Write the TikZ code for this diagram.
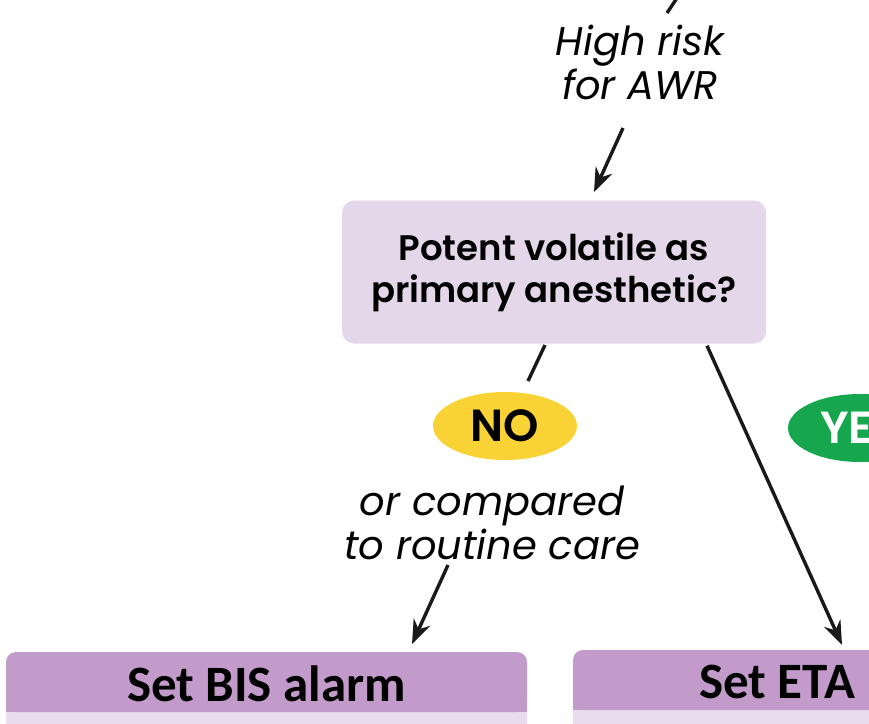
\documentclass[tikz,border=0pt]{standalone}
\usepackage{fontspec}
\setmainfont{Poppins}[BoldFont={Poppins SemiBold}]
\newfontfamily\hdrfont{Carlito}
\usetikzlibrary{arrows.meta,shapes.geometric}
\definecolor{qfill}{HTML}{E4D7EA}
\definecolor{nofill}{HTML}{F9D235}
\definecolor{yesfill}{HTML}{16A64E}
\definecolor{hdrfill}{HTML}{C29BCB}
\definecolor{bandfill}{HTML}{E9DCEF}
\tikzset{
  conn/.style={line width=3.4pt, draw=black!90},
  arr/.style={conn, -{Stealth[length=24pt,width=18pt,inset=8pt]}},
  qbox/.style={fill=qfill, rounded corners=12pt, inner sep=0pt, align=center,
     font=\fontsize{35.5}{42}\selectfont\bfseries},
  pill/.style={ellipse, inner sep=0pt, minimum width=144pt, minimum height=68pt,
     font=\fontsize{45}{45}\selectfont\bfseries},
  lab/.style={align=center, inner sep=0pt, font=\fontsize{40}{44}\selectfont\itshape},
  hdr/.style={inner sep=0pt, font=\hdrfont\fontsize{51}{51}\selectfont\bfseries}
}
\begin{document}
\begin{tikzpicture}[x=1pt,y=-1pt]
\useasboundingbox (0,0) rectangle (869,723);
\clip (0,0) rectangle (869,723);
% top label
\node[lab] (hr) at (640,62) {High risk\\for AWR};
\coordinate (t0) at (677,-2);
\coordinate (t1) at (667,13);
\coordinate (t2) at (623,128);
\coordinate (t3) at (594,192);
\draw[conn] (t0) -- (t1);
% question box
\node[qbox, minimum width=424pt, minimum height=143pt] (q) at (554,272)
  {Potent volatile as\\primary anesthetic?};
\draw[arr] (t2) -- (t3);
% NO branch
\node[pill, fill=nofill, text=black] (no) at (505,426) {NO};
\node[lab] (nolab) at (492,523) {or compared\\to routine care};
\coordinate (n0) at (545,345);
\coordinate (n1) at (528,381);
\coordinate (n2) at (448,565);
\coordinate (n3) at (412,644);
\draw[conn] (n0) -- (n1);
\draw[arr] (n2) -- (n3);
% YES branch
\node[pill, fill=yesfill, text=white] (yes) at (860,428) {YES};
% bottom boxes
\fill[bandfill] (6,700) rectangle (527,740);
\fill[hdrfill, rounded corners=10pt] (6,652) rectangle (527,712);
\fill[hdrfill] (6,695) rectangle (527,712);
\node[hdr] (bis) at (266.5,684) {Set BIS alarm};
\fill[bandfill] (573,700) rectangle (1100,740);
\fill[hdrfill, rounded corners=10pt] (573,650) rectangle (1100,710);
\fill[hdrfill] (573,695) rectangle (1100,710);
\node[hdr, anchor=west] (eta) at (699,682) {Set ETA};
\draw[arr] (q.south -| 707,0) ++(0,2) coordinate (y0) -- (842,645) coordinate (y1);
\end{tikzpicture}
\end{document}
